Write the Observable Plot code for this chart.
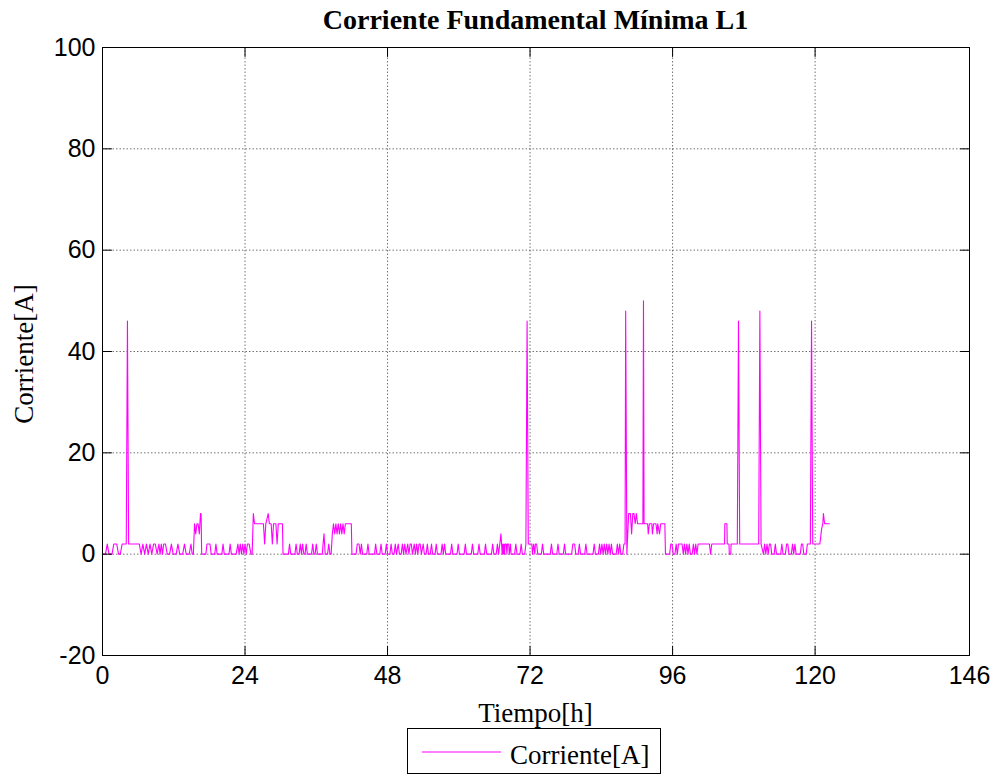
<!DOCTYPE html>
<html>
<head>
<meta charset="utf-8">
<script src="https://cdn.jsdelivr.net/npm/d3@7"></script>
<script src="https://cdn.jsdelivr.net/npm/@observablehq/plot@0.6"></script>
<style>
  body { margin: 0; background: #fff; }
  #chart svg { display: block; }
</style>
</head>
<body>
<div id="chart"></div>
<script>
// Texts
const titulo = "Corriente Fundamental Mínima L1";
const etiquetaX = "Tiempo[h]";
const etiquetaY = "Corriente[A]";
const serie = "Corriente[A]";

// Axis ticks
const ticksX = [0, 24, 48, 72, 96, 120, 146];
const ticksY = [-20, 0, 20, 40, 60, 80, 100];

// Minimum fundamental current, [hour, ampere], one array per day
const dia1 = [
  [0,0],[0.5,0],[0.8,2],[1.1,0],[1.6,0],[1.9,2],[2.4,2],[2.7,0],[3.0,0],[3.3,2],[4.0,2],[4.2,46],[4.4,2],
  [6.2,2],[6.5,0],[6.8,2],[7.1,0],[7.4,2],[7.7,0],[8.0,2],[8.3,0],[8.6,2],[8.9,2],[9.2,0],[9.5,2],[9.7,0],
  [9.9,2],[10.1,0],[10.3,2],[10.6,2],[10.9,0],[11.3,0],[11.6,2],[11.9,0],[12.4,0],[12.7,2],[13.0,0],[13.5,0],
  [13.8,2],[14.1,0],[14.6,0],[14.9,2],[15.1,0],[15.3,0],
  [15.5,6],[15.7,4],[15.9,6],[16.1,6],[16.3,4],[16.5,8],[16.6,8],[16.7,0],
  [17.4,0],[17.6,2],[18.1,2],[18.3,0],[18.9,0],[19.1,2],[19.3,0],[20.1,0],[20.3,2],[20.5,0],[21.3,0],[21.5,2],
  [21.7,0],[22.5,0],[22.8,2],[23.0,0],[23.2,2],[23.4,0],[23.6,2],[23.8,0]
];
const dia2 = [
  [24.0,2],[24.2,0],[24.4,2],[24.7,2],[25.0,0],[25.2,0],[25.4,8],[25.6,6],[27.1,6],[27.3,2],[27.5,6],[27.9,8],
  [28.1,6],[28.4,6],[28.6,2],[28.8,6],[29.2,6],[29.4,2],[29.6,6],[30.3,6],[30.4,0],
  [31.3,0],[31.5,2],[31.7,0],[32.4,0],[32.6,2],[32.8,0],[33.1,0],[33.3,2],[33.5,0],[33.7,2],[33.9,0],[34.1,0],
  [34.3,2],[34.5,0],[35.2,0],[35.4,2],[35.6,0],[35.8,0],[36.0,2],[36.2,0],[37.0,0],[37.3,4],[37.5,0],[37.9,0],
  [38.1,2],[38.3,0],[38.5,0],
  [38.7,4],[38.9,6],[39.1,4],[39.3,6],[39.5,4],[39.7,6],[39.9,4],[40.1,6],[40.3,4],[40.5,6],[40.7,4],[40.9,6],
  [41.9,6],[42.0,0],
  [42.7,0],[42.9,2],[43.2,2],[43.4,0],[43.6,2],[43.8,0],[44.5,0],[44.7,2],[44.9,0],[45.8,0],[46.0,2],[46.2,0],
  [46.7,0],[46.9,2],[47.1,0],[47.6,0],[47.8,2],[48.0,0]
];
const dia3 = [
  [48.4,0],[48.6,2],[48.8,0],[49.1,0],[49.3,2],[49.5,0],[49.8,2],[50.0,0],[50.3,0],[50.5,2],[50.7,0],[50.9,2],
  [51.1,0],[51.4,2],[51.6,0],[51.8,2],[52.0,2],[52.2,0],[52.5,2],[52.7,0],[52.9,2],[53.1,0],[53.3,2],[53.5,2],
  [53.7,0],[54.0,2],[54.2,0],[54.5,0],[54.7,2],[54.9,0],[55.2,0],[55.4,2],[55.6,0],[56.0,0],[56.2,2],[56.4,0],
  [57.0,0],[57.2,2],[57.4,0],[57.6,2],[57.8,0],
  [58.6,0],[58.8,2],[59.0,0],[59.7,0],[59.9,2],[60.1,0],[60.9,0],[61.1,2],[61.3,0],[62.1,0],[62.3,2],[62.5,0],
  [63.2,0],[63.4,2],[63.6,0],[64.3,0],[64.5,2],[64.7,0],[65.5,0],[65.7,2],[65.9,0],[66.3,0],[66.5,2],[66.7,0],
  [66.9,2],[67.1,4],[67.3,0],[67.4,2],[67.5,0],[67.6,2],[67.7,0],[67.8,2],[68.0,2],[68.1,0],[68.2,2],[68.4,2],
  [68.5,0],[68.7,2],[68.8,0],[69.4,0],[69.6,2],[69.8,0],[70.3,0],[70.5,2],[70.7,0],[71.1,0],[71.3,2],[71.5,46],
  [71.7,2]
];
const dia4 = [
  [72.3,2],[72.4,0],[72.6,2],[72.8,0],[72.9,2],[73.1,2],[73.3,0],[73.9,0],[74.1,2],[74.3,0],[75.4,0],[75.6,2],
  [75.8,0],[76.5,0],[76.7,2],[76.9,0],[77.6,0],[77.8,2],[78.0,0],[79.0,0],[79.2,2],[79.5,2],[79.7,0],[80.1,0],
  [80.3,2],[80.5,0],[81.2,0],[81.4,2],[81.6,0],[82.6,0],[82.8,2],[83.0,0],[83.5,0],[83.7,2],[83.9,0],[84.1,2],
  [84.3,0],[84.5,2],[84.7,0],[84.9,2],[85.1,0],[85.3,2],[85.5,0],[85.7,2],[85.9,0],[86.5,0],[86.7,2],[86.9,0],
  [87.1,2],[87.3,0],[87.6,0],[87.8,2],[88.0,2],[88.1,48],[88.3,0],
  [88.6,8],[88.9,8],[89.1,4],[89.3,8],[89.5,8],[89.7,6],[89.9,8],[90.1,6],[91.0,6],[91.1,50],[91.2,6],[91.8,6],
  [91.9,4],[92.1,6],[92.5,6],[92.6,4],[92.8,6],[93.2,6],[93.4,4],[93.5,6],[93.8,4],[94.0,6],[94.7,6],[94.8,0],
  [95.5,0],[95.7,2],[95.9,2],[96.1,0]
];
const dia5 = [
  [96.4,0],[96.6,2],[96.8,0],[97.0,2],[97.6,2],[97.8,0],[98.0,2],[98.2,0],[98.4,2],[98.6,0],[98.8,2],[99.0,0],
  [99.3,0],[99.5,2],[99.7,0],[99.9,2],[100.1,0],[100.3,2],[102.2,2],[102.4,0],[102.6,2],[104.75,2],[104.8,6],
  [105.15,6],[105.2,2],[105.5,2],[105.55,0],[105.8,0],[105.85,2],[106.9,2],[107.1,46],[107.3,2],[110.5,2],
  [110.7,48],[110.9,2],
  [111.3,0],[111.5,2],[111.7,0],[111.9,2],[112.1,0],[112.3,2],[112.5,2],[112.7,0],[113.1,0],[113.3,2],[113.5,0],
  [114.2,0],[114.4,2],[114.6,0],[115.0,0],[115.2,2],[115.4,2],[115.6,0],[116.0,0],[116.2,2],[116.4,0],[116.6,2],
  [116.8,0],[117.5,0],[117.7,2],[117.9,2],[118.1,0],[118.5,0],[118.7,2],[119.2,2],[119.4,46],[119.6,2],
  [120.8,2],[121.1,5],[121.3,6],[121.4,8],[121.6,6],[122.4,6]
];

const datos = [...dia1, ...dia2, ...dia3, ...dia4, ...dia5].map(([hora, valor]) => ({hora, valor}));

const magenta = "#ff00ff";
const serif = "'Liberation Serif', 'Times New Roman', serif";
const sans = "'Liberation Sans', Arial, sans-serif";

// Short inward tick drawn from the frame edge
const marca = {draw(context, l) { context.moveTo(0, 0); context.lineTo(0, -l); }};
const largo = 9;
const rejilla = {stroke: "#000", strokeOpacity: 0.55, strokeDasharray: "1.5,2", strokeWidth: 1};
const formato = d => String(d);

const chart = Plot.plot({
  width: 992,
  height: 776,
  marginLeft: 102,
  marginRight: 23,
  marginTop: 47,
  marginBottom: 121,
  style: {fontFamily: sans, fontSize: "25px", color: "#000", background: "#fff", overflow: "visible"},
  x: {domain: [0, 146], ticks: ticksX, label: null},
  y: {domain: [-20, 100], ticks: ticksY, label: null},
  marks: [
    Plot.gridX(ticksX, rejilla),
    Plot.gridY(ticksY, rejilla),
    Plot.line(datos, {x: "hora", y: "valor", stroke: magenta, strokeWidth: 1.1}),
    Plot.frame({stroke: "#000", strokeWidth: 1}),
    Plot.vector(ticksX, {x: d => d, frameAnchor: "bottom", anchor: "start", rotate: 0, length: largo, shape: marca, stroke: "#000", strokeWidth: 1}),
    Plot.vector(ticksX, {x: d => d, frameAnchor: "top", anchor: "start", rotate: 180, length: largo, shape: marca, stroke: "#000", strokeWidth: 1}),
    Plot.vector(ticksY, {y: d => d, frameAnchor: "left", anchor: "start", rotate: 90, length: largo, shape: marca, stroke: "#000", strokeWidth: 1}),
    Plot.vector(ticksY, {y: d => d, frameAnchor: "right", anchor: "start", rotate: 270, length: largo, shape: marca, stroke: "#000", strokeWidth: 1}),
    Plot.axisX(ticksX, {tickSize: 0, tickPadding: 11, fontSize: 25, label: null, tickFormat: formato}),
    Plot.axisY(ticksY, {tickSize: 0, tickPadding: 7, fontSize: 25, label: null, tickFormat: formato})
  ]
});

document.getElementById("chart").append(chart);

// Title, axis labels and legend box
const svg = d3.select(chart);
const cx = (102 + 969) / 2;

svg.append("text")
  .attr("x", cx).attr("y", 29)
  .attr("text-anchor", "middle")
  .attr("font-family", serif).attr("font-weight", "bold").attr("font-size", 28)
  .attr("fill", "#000")
  .text(titulo);

svg.append("text")
  .attr("x", cx).attr("y", 722)
  .attr("text-anchor", "middle")
  .attr("font-family", serif).attr("font-size", 27)
  .attr("fill", "#000")
  .text(etiquetaX);

svg.append("text")
  .attr("transform", "translate(33,354) rotate(-90)")
  .attr("text-anchor", "middle")
  .attr("font-family", serif).attr("font-size", 27)
  .attr("fill", "#000")
  .text(etiquetaY);

const leyenda = svg.append("g");
leyenda.append("rect")
  .attr("x", 407.5).attr("y", 728.5).attr("width", 253).attr("height", 45)
  .attr("fill", "#fff").attr("stroke", "#000").attr("stroke-width", 1);
leyenda.append("line")
  .attr("x1", 422).attr("x2", 501).attr("y1", 752).attr("y2", 752)
  .attr("stroke", magenta).attr("stroke-width", 1);
leyenda.append("text")
  .attr("x", 510).attr("y", 764)
  .attr("text-anchor", "start")
  .attr("font-family", serif).attr("font-size", 27)
  .attr("fill", "#000")
  .text(serie);
</script>
</body>
</html>
